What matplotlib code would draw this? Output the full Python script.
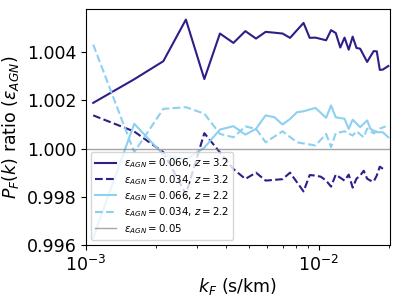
import numpy as np
import matplotlib
matplotlib.use('Agg')
import matplotlib.pyplot as plt

# k grid: k = n * dk
dk = 5.37e-4

n_hi_z3 = [2, 3, 4, 5, 6, 7, 8, 9, 10, 11, 13, 14, 16, 17, 18, 20, 21, 22, 23, 24,
           25, 26, 27, 28, 30, 32, 33, 34, 35, 37]
r_hi_z3 = [1.00190, 1.00288, 1.00363, 1.00536, 1.00289, 1.00478, 1.00439, 1.00488,
           1.00457, 1.00485, 1.00478, 1.00460, 1.00522, 1.00460, 1.00461, 1.00450,
           1.00492, 1.00480, 1.00420, 1.00461, 1.00411, 1.00465, 1.00418, 1.00415,
           1.00360, 1.00405, 1.00404, 1.00327, 1.00328, 1.00343]

n_lo_z3 = [2, 3, 4, 5, 6, 8, 9, 10, 11, 13, 14, 16, 17, 18, 19, 20, 21, 22, 23, 24,
           25, 26, 27, 28, 29, 30, 31, 32, 33, 34, 36]
r_lo_z3 = [1.00138, 1.00071, 0.99985, 0.99811, 1.00064, 0.99915, 0.99874, 0.99900,
           0.99867, 0.99873, 0.99900, 0.99822, 0.99890, 0.99888, 0.99883, 0.99867,
           0.99842, 0.99892, 0.99879, 0.99867, 0.99892, 0.99838, 0.99875, 0.99888,
           0.99908, 0.99875, 0.99867, 0.99863, 0.99888, 0.99925, 0.99908]

n_hi_z2 = [2, 3, 4, 5, 6, 7, 8, 9, 10, 11, 12, 13, 14, 15, 16, 18, 20, 21, 22, 24,
           25, 26, 28, 30, 31, 33, 35, 37]
r_hi_z2 = [0.99630, 1.00103, 0.99975, 0.99954, 1.00004, 1.00079, 1.00093, 1.00058,
           1.00082, 1.00138, 1.00130, 1.00100, 1.00123, 1.00151, 1.00155, 1.00169,
           1.00128, 1.00179, 1.00130, 1.00124, 1.00082, 1.00120, 1.00089, 1.00117,
           1.00082, 1.00068, 1.00068, 1.00047]

n_lo_z2 = [2, 3, 4, 5, 6, 7, 8, 9, 10, 11, 13, 15, 18, 20, 21, 22, 24, 26, 27, 29,
           30, 32, 34, 36]
r_lo_z2 = [1.00432, 0.99985, 1.00165, 1.00172, 1.00145, 1.00061, 1.00047, 1.00092,
           1.00082, 1.00026, 1.00072, 1.00026, 1.00013, 1.00061, 1.00006, 1.00064,
           1.00072, 1.00054, 1.00072, 1.00047, 1.00083, 1.00063, 1.00083, 1.00092]

dark = '#2d1e88'
light = '#8dd0f2'

fig = plt.figure(figsize=(3.99, 2.99), dpi=100)
ax = fig.add_axes([0.2155, 0.181, 0.762, 0.789])

ax.plot(np.array(n_hi_z3) * dk, r_hi_z3, color=dark, lw=1.5, ls='-',
        label=r'$\epsilon_{AGN}=0.066$, $z=3.2$')
ax.plot(np.array(n_lo_z3) * dk, r_lo_z3, color=dark, lw=1.5, ls='--',
        label=r'$\epsilon_{AGN}=0.034$, $z=3.2$')
ax.plot(np.array(n_hi_z2) * dk, r_hi_z2, color=light, lw=1.5, ls='-',
        label=r'$\epsilon_{AGN}=0.066$, $z=2.2$')
ax.plot(np.array(n_lo_z2) * dk, r_lo_z2, color=light, lw=1.5, ls='--',
        label=r'$\epsilon_{AGN}=0.034$, $z=2.2$')
ax.axhline(1.0, color='gray', lw=1, alpha=0.7, label=r'$\epsilon_{AGN}=0.05$')

ax.set_xscale('log')
ax.set_xlim(1e-3, 0.0202)
ax.set_ylim(0.996, 1.0058)
ax.set_yticks([0.996, 0.998, 1.000, 1.002, 1.004])
ax.set_yticklabels(['0.996', '0.998', '1.000', '1.002', '1.004'])
ax.tick_params(labelsize=12.5)
ax.set_xlabel(r'$k_F$ (s/km)', fontsize=12.5, labelpad=1)
ax.set_ylabel(r'$P_F(k)$ ratio ($\epsilon_{AGN}$)', fontsize=12.5)
ax.legend(loc='lower left', fontsize=7.4, labelspacing=0.25)

fig.savefig('out.png', dpi=100)
